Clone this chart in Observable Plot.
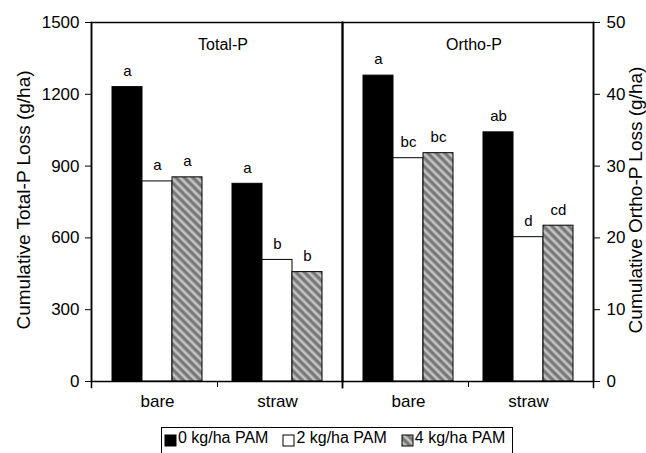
<!DOCTYPE html>
<html>
<head>
<meta charset="utf-8">
<script src="https://cdn.jsdelivr.net/npm/d3@7"></script>
<script src="https://cdn.jsdelivr.net/npm/@observablehq/plot@0.6"></script>
<style>
  html, body { margin: 0; padding: 0; background: #fff; }
  body { position: relative; width: 646px; height: 453px; overflow: hidden; font-family: "Liberation Sans", Arial, sans-serif; }
  #chart svg { display: block; }
  #legend { position: absolute; left: 161px; top: 427px; }
  #legend .lg-swatches { font-family: "Liberation Sans", Arial, sans-serif !important; font-size: 16px !important; color: #000 !important;
    border: 1px solid #000; display: inline-flex !important; align-items: flex-start; padding: 1px 7px 12px 3px; margin: 0 !important; min-height: 0 !important; flex-wrap: nowrap !important; }
  #legend .lg-swatch { margin-right: 15px !important; display: inline-flex; align-items: center; }
  #legend .lg-swatch:last-child { margin-right: 0 !important; }
  #legend .lg-swatch > svg { margin-right: 2px !important; position: relative; top: 2px; }
  #legend .lg-swatch > svg rect { stroke: #000; stroke-width: 1; }
</style>
</head>
<body>
<div id="chart"></div>
<div id="legend"></div>
<script>
// ---- data ----
const panels = ["Total-P", "Ortho-P"];
const surfaces = ["bare", "straw"];
const treatments = ["0 kg/ha PAM", "2 kg/ha PAM", "4 kg/ha PAM"];
const totalP = [[1230, 836, 853], [826, 508, 457]];        // g/ha, [surface][treatment]
const orthoP = [[42.6, 31.1, 31.8], [34.7, 20.1, 21.7]];   // g/ha
const totalLetters = [["a", "a", "a"], ["a", "b", "b"]];
const orthoLetters = [["a", "bc", "bc"], ["ab", "d", "cd"]];
const leftTicks = [0, 300, 600, 900, 1200, 1500];
const rightTicks = [0, 10, 20, 30, 40, 50];
const leftLabel = "Cumulative Total-P Loss (g/ha)";
const rightLabel = "Cumulative Ortho-P Loss (g/ha)";
const treatmentColors = ["black", "white", "url(#hatch)"];

// ---- build table ----
const ratio = leftTicks[leftTicks.length - 1] / rightTicks[rightTicks.length - 1];
const rows = [];
panels.forEach((panel, p) => {
  surfaces.forEach((s, si) => {
    treatments.forEach((t, ti) => {
      const v = p === 0 ? totalP[si][ti] : orthoP[si][ti];
      rows.push({
        panel, surface: s, treatment: t, key: s + "|" + ti,
        value: v, y: p === 0 ? v : v * ratio,
        letter: p === 0 ? totalLetters[si][ti] : orthoLetters[si][ti]
      });
    });
  });
});
const xKeys = [];
surfaces.forEach((s, si) => {
  if (si > 0) xKeys.push("gap");
  treatments.forEach((t, ti) => xKeys.push(s + "|" + ti));
});

const plot = Plot.plot({
  width: 646, height: 420,
  marginLeft: 90, marginRight: 53, marginTop: 22, marginBottom: 39,
  style: { fontFamily: "Liberation Sans, Arial, sans-serif", fontSize: "17px", color: "black", background: "white", overflow: "visible" },
  fx: { domain: panels, padding: 0, axis: null, label: null },
  x: { domain: xKeys, paddingInner: 0, paddingOuter: 0.556, axis: null, label: null },
  y: { domain: [0, leftTicks[leftTicks.length - 1]], axis: null, label: null },
  color: { domain: treatments, range: treatmentColors },
  marks: [
    Plot.barY(rows, { fx: "panel", x: "key", y: "y", fill: "treatment", stroke: "black", strokeWidth: 1 }),
    Plot.text(rows, { fx: "panel", x: "key", y: "y", text: "letter", dy: -16, fontSize: 15 }),
    Plot.text(panels, { fx: d => d, text: d => d, frameAnchor: "top", dy: 16, dx: 6, fontSize: 16 }),
    Plot.frame({ stroke: "black", strokeWidth: 1.5 }),
    Plot.frame({ anchor: "left", insetBottom: -6, stroke: "black", strokeWidth: 1.5 }),
    Plot.frame({ anchor: "right", insetBottom: -6, stroke: "black", strokeWidth: 1.5 }),
    Plot.axisY({ anchor: "left", ticks: leftTicks, tickFormat: d => String(d), tickSize: 6, tickPadding: 6, label: null, fontSize: 17 }),
    Plot.axisY({ anchor: "right", ticks: rightTicks.map(t => t * ratio), tickFormat: d => String(d / ratio), tickSize: 6, tickPadding: 7, label: null, fontSize: 17 }),
    Plot.axisX({ ticks: surfaces.map(s => s + "|1"), tickFormat: d => d.split("|")[0], tickSize: 0, tickPadding: 13, fontSize: 17, label: null }),
    Plot.axisX({ ticks: ["gap"], tickFormat: () => "", tickSize: 6, label: null }),
    Plot.text([leftLabel], { fx: () => panels[0], text: d => d, frameAnchor: "left", textAnchor: "middle", rotate: -90, dx: -68, dy: -2, fontSize: 19 }),
    Plot.text([rightLabel], { fx: () => panels[1], text: d => d, frameAnchor: "right", textAnchor: "middle", rotate: -90, dx: 42, dy: -2, fontSize: 19 })
  ]
});

// hatch pattern used by the 4 kg/ha PAM series
const defs = d3.select(plot).insert("defs", ":first-child");
const pat = defs.append("pattern").attr("id", "hatch")
  .attr("patternUnits", "userSpaceOnUse").attr("width", 6).attr("height", 6)
  .attr("patternTransform", "rotate(-45)");
pat.append("rect").attr("width", 6).attr("height", 6).attr("fill", "#8f8f8f");
pat.append("rect").attr("x", 0).attr("width", 2.2).attr("height", 6).attr("fill", "#c4c4c4");
pat.append("rect").attr("x", 3.6).attr("width", 0.9).attr("height", 6).attr("fill", "#555");

document.getElementById("chart").appendChild(plot);

const legend = Plot.legend({
  color: { domain: treatments, range: treatmentColors },
  legend: "swatches", swatchSize: 11, className: "lg"
});
document.getElementById("legend").appendChild(legend);
</script>
</body>
</html>
